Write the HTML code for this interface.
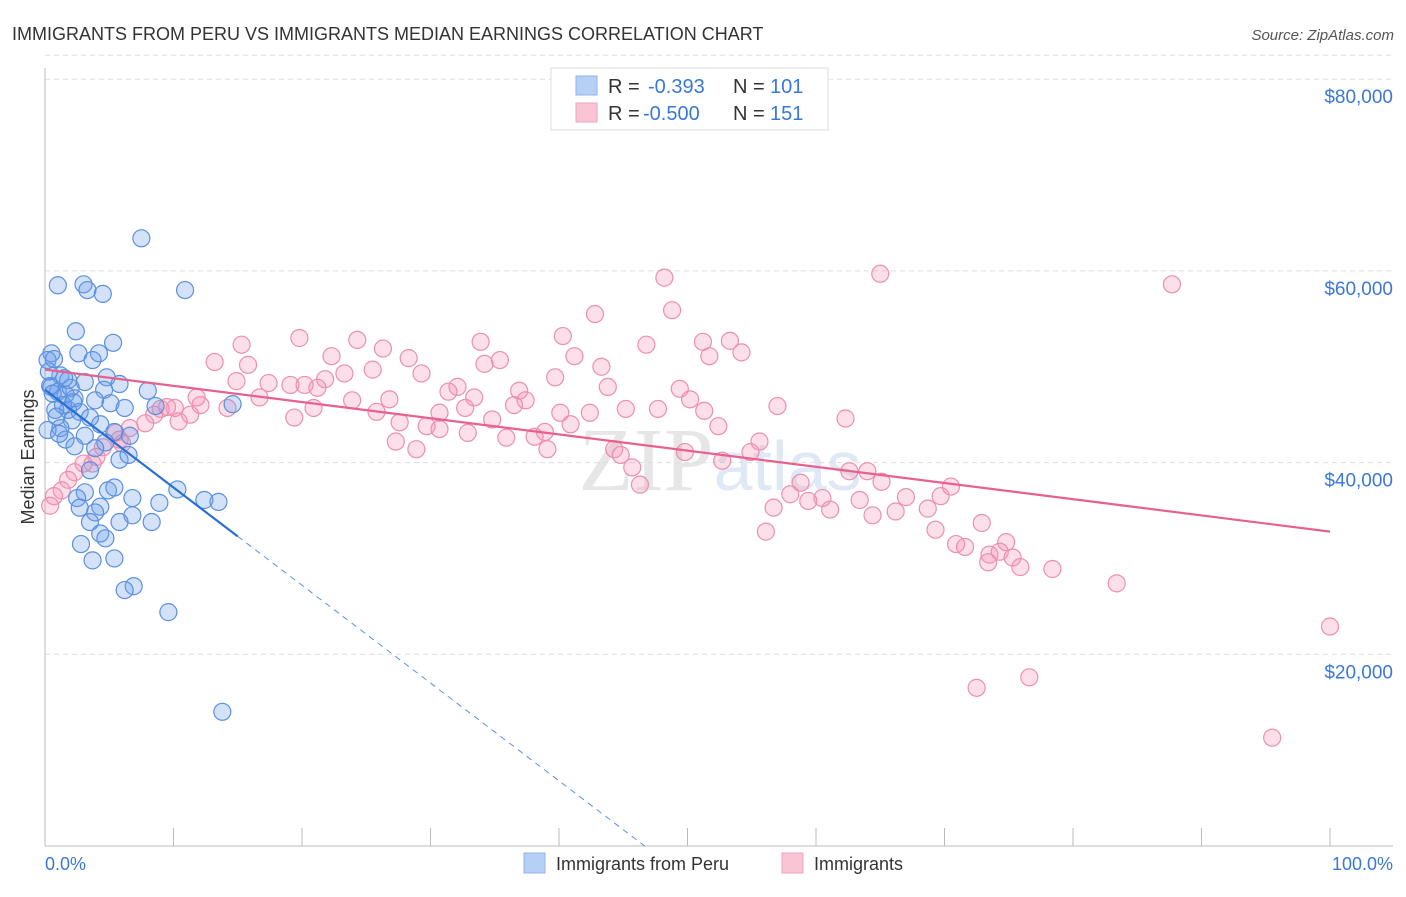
<!DOCTYPE html>
<html><head><meta charset="utf-8"><style>
body{margin:0;background:#fff;font-family:"Liberation Sans",sans-serif;}
</style></head><body>
<svg width="1406" height="892" xmlns="http://www.w3.org/2000/svg" id="chart">
<text x="12" y="40" font-size="18" fill="#333">IMMIGRANTS FROM PERU VS IMMIGRANTS MEDIAN EARNINGS CORRELATION CHART</text>
<text x="1394" y="40" font-size="15" fill="#555" font-style="italic" text-anchor="end">Source: ZipAtlas.com</text>
<text x="720" y="490" font-size="90" fill="#e6e6e6" text-anchor="middle" font-family="Liberation Serif,serif">ZIP<tspan fill="#dfe8f5" font-family="Liberation Sans,sans-serif" font-size="70">atlas</tspan></text>
<g id="grid"></g>
<g id="axes"></g>
<g id="pinkpts"></g>
<g id="bluepts"></g>
<g id="lines"></g>
<text transform="translate(34,457) rotate(-90)" font-size="18" fill="#333" text-anchor="middle">Median Earnings</text>
<text x="45" y="870" font-size="18" fill="#3a78d8">0.0%</text>
<text x="1393" y="870" font-size="18" fill="#3a78d8" text-anchor="end">100.0%</text>
<g>
<rect x="551" y="68" width="277" height="62" fill="#fff" stroke="#ddd"/>
<rect x="576" y="76" width="21" height="19" fill="#b6d0f5" stroke="#8fb3ea"/>
<rect x="576" y="103" width="21" height="19" fill="#f9c5d5" stroke="#f0a3bb"/>
<text x="608" y="93" font-size="20" fill="#333">R = </text><text x="648" y="93" font-size="20" fill="#3a78d8">-0.393</text>
<text x="733" y="93" font-size="20" fill="#333">N = </text><text x="770" y="93" font-size="20" fill="#3a78d8">101</text>
<text x="608" y="120" font-size="20" fill="#333">R = </text><text x="643" y="120" font-size="20" fill="#3a78d8">-0.500</text>
<text x="733" y="120" font-size="20" fill="#333">N = </text><text x="770" y="120" font-size="20" fill="#3a78d8">151</text>
</g>
<g>
<rect x="524" y="853" width="21" height="20" fill="#b6d0f5" stroke="#8fb3ea"/>
<text x="556" y="870" font-size="18" fill="#333">Immigrants from Peru</text>
<rect x="782" y="853" width="21" height="20" fill="#f9c5d5" stroke="#f0a3bb"/>
<text x="814" y="870" font-size="18" fill="#333">Immigrants</text>
</g>
</svg>
<script>
const yTicks=[20000,40000,60000,80000];
const yTickLabels=["$20,000","$40,000","$60,000","$80,000"];
const xTicks=[0,10,20,30,40,50,60,70,80,90,100];
const blueX=[7.5,1.0,3.0,3.3,4.5,10.9,2.4,5.3,2.6,4.2,0.5,3.7,0.2,4.8,1.2,1.8,3.1,5.8,8.0,0.5,1.0,4.6,1.6,2.3,3.9,5.1,14.6,8.6,6.2,1.8,0.8,2.7,3.5,2.1,4.3,1.2,5.4,6.6,3.1,1.6,4.7,2.3,3.9,5.8,6.5,0.2,3.5,3.1,4.9,5.4,10.3,2.5,6.8,8.9,12.4,13.5,2.7,4.3,3.9,6.8,3.5,5.8,8.3,4.3,4.7,2.8,5.4,3.7,6.9,6.2,9.6,13.8,0.4,0.6,1.4,2.0,0.3,0.9,1.5,2.2,0.7,1.1];
const blueY=[63.4,58.5,58.6,58.0,57.6,58.0,53.7,52.5,51.4,51.4,51.4,50.7,50.7,48.9,49.1,48.6,48.4,48.2,47.5,47.9,47.4,47.6,47.1,46.7,46.5,46.2,46.1,45.9,45.7,45.5,45.5,45.3,44.7,44.4,44.0,43.6,43.2,42.8,42.8,42.4,42.1,41.7,41.5,40.3,40.8,43.4,39.2,36.9,37.1,37.4,37.2,36.3,36.3,35.8,36.1,35.9,35.3,35.4,34.8,34.5,33.8,33.8,33.8,32.6,32.1,31.5,30.0,29.8,27.1,26.7,24.4,14.0,48.0,47.2,46.0,47.8,49.5,44.8,48.8,46.3,50.8,43.0];
const pinkX=[65.0,48.2,87.7,42.8,48.8,40.3,19.8,24.3,33.9,46.8,51.2,53.3,15.3,26.3,54.2,22.3,28.3,35.4,41.2,51.7,13.2,15.8,34.2,43.3,23.3,21.8,25.5,29.3,39.7,14.9,17.4,19.1,20.2,43.8,49.4,32.1,31.4,21.2,36.9,23.9,26.8,33.4,37.4,16.7,11.8,50.2,57.0,12.1,14.2,9.0,10.1,11.3,19.4,20.9,25.8,30.7,32.7,36.5,40.1,42.4,45.2,47.7,51.3,62.3,27.6,29.7,30.7,32.9,34.8,38.9,40.9,10.4,7.8,6.6,5.5,52.4,27.3,35.9,38.1,55.6,5.8,4.5,28.9,39.1,44.3,44.8,49.8,54.9,52.7,3.7,3.0,2.3,45.7,1.8,1.3,0.7,0.4,46.3,62.6,64.0,65.1,58.8,58.0,60.5,59.4,63.4,67.0,69.7,70.5,56.7,61.1,64.4,66.2,68.7,56.1,69.3,72.9,70.9,71.6,74.8,73.5,74.3,75.3,73.4,75.9,78.4,83.4,100,72.5,76.6,95.5,8.5,9.5,6.0,4.0];
const pinkY=[59.7,59.3,58.6,55.5,55.9,53.2,53.0,52.8,52.6,52.3,52.6,52.7,52.3,51.9,51.5,51.1,50.9,50.7,51.1,51.1,50.5,50.2,50.3,50.0,49.3,48.7,49.7,49.3,48.9,48.5,48.3,48.1,48.1,47.9,47.7,47.9,47.4,47.8,47.5,46.5,46.6,46.8,46.5,46.8,46.8,46.6,45.9,46.0,45.7,45.6,45.7,45.0,44.7,45.7,45.3,45.2,45.7,46.0,45.2,45.2,45.6,45.6,45.4,44.6,44.2,43.8,43.5,43.1,44.5,43.2,44.0,44.3,44.1,43.6,43.1,43.8,42.2,42.6,42.7,42.2,42.4,41.6,41.4,41.4,41.4,40.8,41.1,41.1,40.2,39.9,39.9,39.0,39.5,38.2,37.1,36.5,35.5,37.7,39.1,39.1,38.0,37.9,36.7,36.3,36.0,36.1,36.4,36.5,37.5,35.3,35.1,34.5,34.9,35.2,32.8,33.0,33.7,31.5,31.2,31.7,30.4,30.7,30.1,29.6,29.1,28.9,27.4,22.9,16.5,17.6,11.3,45.0,45.8,42.0,40.6];
const blueTrend=[47.6,-1.02], pinkTrend=[49.7,-0.169];
const NS="http://www.w3.org/2000/svg";
const X0=45,X1=1330,Y0=846,PXK=191.7/20;
function sx(v){return X0+(X1-X0)*v/100;}
function sy(k){return Y0-k*PXK;}
function mk(tag,attrs,parent){const e=document.createElementNS(NS,tag);for(const k in attrs)e.setAttribute(k,attrs[k]);document.getElementById(parent).appendChild(e);return e;}
yTicks.forEach((t,i)=>{
 const l=mk('line',{x1:45,x2:1393,y1:sy(t/1000),y2:sy(t/1000),stroke:'#ddd','stroke-dasharray':'5,4'},'grid');
 
 
 const tx=mk('text',{x:1393,y:sy(t/1000)+24,'font-size':19,fill:'#3a78d8','text-anchor':'end'},'grid');
 tx.textContent=yTickLabels[i];
 
 
});
const tl=mk('line',{x1:45,x2:1393,y1:sy(82.5),y2:sy(82.5),stroke:'#ddd','stroke-dasharray':'5,4'},'grid');


const ya=mk('line',{x1:45,x2:45,y1:68,y2:846,stroke:'#bbb'},'axes');


const xa=mk('line',{x1:45,x2:1393,y1:846,y2:846,stroke:'#bbb'},'axes');


xTicks.forEach(t=>{
 const l=mk('line',{x1:sx(t),x2:sx(t),y1:846,y2:828,stroke:'#bbb'},'axes');
 
 
});
pinkX.forEach((x,i)=>{
 const c=mk('circle',{cx:sx(x),cy:sy(pinkY[i]),r:8.5,fill:'rgba(244,150,180,0.3)',stroke:'#ec8fae','stroke-width':1.2},'pinkpts');
 
 
});
blueX.forEach((x,i)=>{
 const c=mk('circle',{cx:sx(x),cy:sy(blueY[i]),r:8.5,fill:'rgba(110,160,235,0.3)',stroke:'#5a90e0','stroke-width':1.2},'bluepts');
 
 
});
const pl=mk('line',{x1:sx(0),y1:sy(pinkTrend[0]),x2:sx(100),y2:sy(pinkTrend[0]+100*pinkTrend[1]),stroke:'#e8608c','stroke-width':2.2},'lines');


const bl=mk('line',{x1:sx(0),y1:sy(blueTrend[0]),x2:sx(15),y2:sy(blueTrend[0]+15*blueTrend[1]),stroke:'#2a6fd6','stroke-width':2.2},'lines');


const xe=-blueTrend[0]/blueTrend[1];
const bd=mk('line',{x1:sx(15),y1:sy(blueTrend[0]+15*blueTrend[1]),x2:sx(xe),y2:sy(0),stroke:'#5a90e0','stroke-width':1,'stroke-dasharray':'6,5'},'lines');


</script>
</body></html>
